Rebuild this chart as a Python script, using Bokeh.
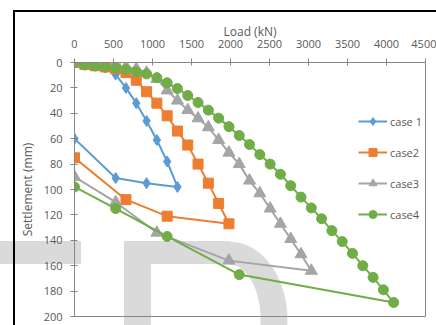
from bokeh.plotting import figure
from bokeh.models import Range1d, LinearAxis, Legend, LegendItem, FixedTicker
from bokeh.embed import file_html
from bokeh.resources import INLINE

# ---------------- data ----------------
case1_load = [0, 132, 264, 396, 528, 660, 792, 924, 1056, 1188, 1320, 924, 528, 0]
case1_settle = [0, 1, 2, 4, 9.5, 20, 32, 46, 61, 78, 98, 95, 91, 60]

case2_load = [0, 132, 264, 396, 528, 660, 792, 924, 1056, 1188, 1320, 1452, 1584, 1716, 1848, 1980,
              1188, 660, 0]
case2_settle = [0, 1.5, 2.5, 3.5, 5, 8, 14, 23, 32, 42, 54, 65, 80, 95, 111, 127,
                121, 108, 75]

case3_load = [0, 132, 264, 396, 528, 660, 792, 924, 1056, 1188, 1320, 1452, 1584, 1716, 1848, 1980,
              2112, 2244, 2376, 2508, 2640, 2772, 2904, 3036,
              1980, 1056, 528, 0]
case3_settle = [0, 0.5, 1, 1.5, 2.5, 3.5, 5, 8, 13, 22, 30, 37.5, 44, 51, 61, 71,
                80, 93, 103, 115, 127, 139, 151, 164,
                156, 134, 110, 90]

case4_load = [0, 132, 264, 396, 528, 660, 792, 924, 1056, 1188, 1320, 1452, 1584, 1716, 1848, 1980,
              2112, 2244, 2376, 2508, 2640, 2772, 2904, 3036, 3168, 3300, 3432, 3564, 3696, 3828, 3960, 4092,
              2112, 1188, 528, 0]
case4_settle = [0, 2, 2.8, 3.6, 4.5, 5.5, 7.3, 9, 12, 16, 20.5, 26, 31.5, 37.5, 43.8, 50.5,
                57.5, 64.6, 72.5, 80, 88, 97, 106, 114.5, 123, 132.4, 141, 150.3, 160, 169.2, 179, 189,
                167, 137, 115, 98]

x_ticks = [0, 500, 1000, 1500, 2000, 2500, 3000, 3500, 4000, 4500]
y_ticks = [0, 20, 40, 60, 80, 100, 120, 140, 160, 180, 200]
labels = ["case 1", "case2", "case3", "case4"]
colors = ["#5B9BD5", "#ED7D31", "#A5A5A5", "#70AD47"]

FONT = "Open Sans"
TXT = "#595959"
AX = "#868686"
WM = "#DADADA"

p = figure(width=436, height=325, output_backend="svg", toolbar_location=None,
           x_range=Range1d(0, 4500), y_range=Range1d(200, 0),
           x_axis_location=None, y_axis_location=None,
           min_border_left=74, min_border_right=11, min_border_top=62, min_border_bottom=9)
p.xgrid.visible = False
p.ygrid.visible = False
p.outline_line_color = AX
p.outline_line_width = 1
p.background_fill_color = None
p.border_fill_color = None

# chart-area border and faint watermark, painted as the page background behind the canvas
bg_layers = [
    "linear-gradient(#000,#000) 13px 10px / 2px 330px no-repeat",
    "linear-gradient(#000,#000) 13px 10px / 440px 2px no-repeat",
    "radial-gradient(31px 56px at 0px 56px, #fff 97%, rgba(255,255,255,0) 100%) 230px 264px / 45px 80px no-repeat",
    f"radial-gradient(58px 79px at 0px 79px, {WM} 98%, rgba(218,218,218,0) 100%) 230px 241px / 62px 100px no-repeat",
    f"linear-gradient({WM},{WM}) 124px 241px / 27px 100px no-repeat",
    f"linear-gradient({WM},{WM}) 150px 241px / 81px 23px no-repeat",
    f"linear-gradient({WM},{WM}) 0px 241px / 81px 23px no-repeat",
    "#ffffff",
]
p.styles = {"background": ", ".join(bg_layers)}

xa = LinearAxis(axis_label="Load (kN)", ticker=FixedTicker(ticks=x_ticks))
ya = LinearAxis(axis_label="Settlement (mm)", ticker=FixedTicker(ticks=y_ticks))
for ax in (xa, ya):
    ax.axis_line_color = AX
    ax.major_tick_line_color = AX
    ax.major_tick_in = 3
    ax.major_tick_out = 4
    ax.minor_tick_line_color = None
    ax.major_label_text_font = FONT
    ax.major_label_text_font_size = "11px"
    ax.major_label_text_color = TXT
    ax.axis_label_text_font = FONT
    ax.axis_label_text_font_size = "12px"
    ax.axis_label_text_font_style = "normal"
    ax.axis_label_text_color = TXT
xa.major_label_standoff = 11
xa.axis_label_standoff = -3
ya.major_label_standoff = 8
ya.axis_label_standoff = 5
p.add_layout(xa, "above")
p.add_layout(ya, "left")

series = [(case1_load, case1_settle, "diamond", 11),
          (case2_load, case2_settle, "square", 10),
          (case3_load, case3_settle, "triangle", 12),
          (case4_load, case4_settle, "circle", 10)]
items = []
for (xs, ys, mk, sz), lab, col in zip(series, labels, colors):
    ln = p.line(xs, ys, line_color=col, line_width=2)
    sc = p.scatter(xs, ys, marker=mk, size=sz, fill_color=col, line_color=col)
    items.append(LegendItem(label=lab, renderers=[ln, sc]))

leg = Legend(items=items, location=(284, 92), orientation="vertical",
             glyph_width=29, glyph_height=20, spacing=11, label_standoff=3,
             padding=0, margin=0, border_line_color=None, background_fill_alpha=0,
             label_text_font=FONT, label_text_font_size="11px", label_text_color=TXT)
p.add_layout(leg, "center")

open("out.html", "w").write(file_html(p, INLINE))
